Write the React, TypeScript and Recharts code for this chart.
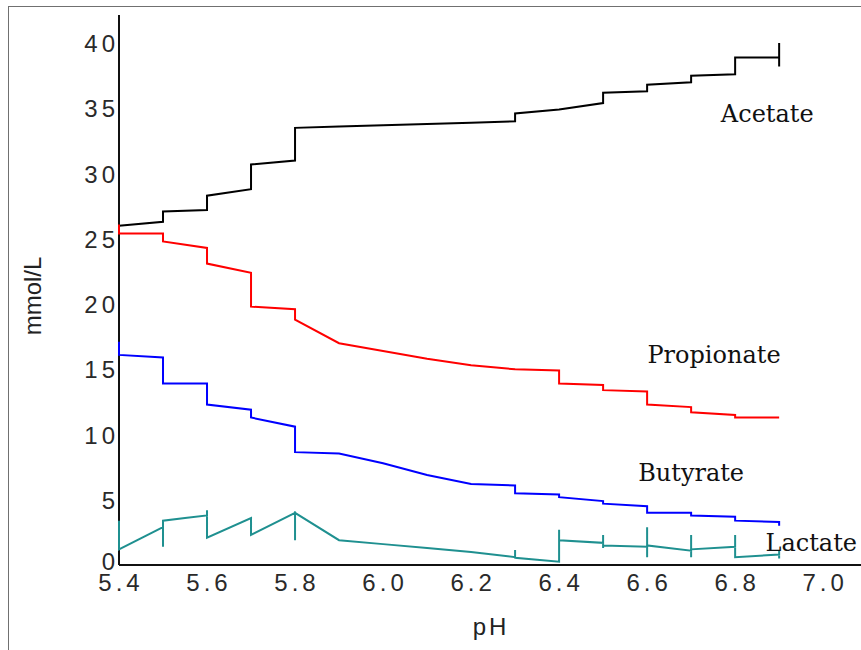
import { LineChart, Line, XAxis, YAxis, ReferenceDot, ReferenceLine } from 'recharts';

const phTicks = [5.4, 5.6, 5.8, 6.0, 6.2, 6.4, 6.6, 6.8, 7.0];
const mmolTicks = [0, 5, 10, 15, 20, 25, 30, 35, 40];

// [pH, mmol/L] vertices (repeated pH = vertical jump / bar)
const acetate: [number, number][] = [
  [5.4, 26.0], [5.5, 26.3], [5.5, 27.1], [5.6, 27.2], [5.6, 28.3], [5.7, 28.8],
  [5.7, 30.7], [5.8, 31.0], [5.8, 33.5], [5.9, 33.6], [6.0, 33.7], [6.1, 33.8],
  [6.2, 33.9], [6.3, 34.0], [6.3, 34.6], [6.4, 34.9], [6.5, 35.4], [6.5, 36.2],
  [6.6, 36.3], [6.6, 36.8], [6.7, 37.0], [6.7, 37.5], [6.8, 37.6], [6.8, 38.9],
  [6.9, 38.9], [6.9, 40.0], [6.9, 38.2],
];

const propionate: [number, number][] = [
  [5.4, 26.1], [5.4, 25.4], [5.5, 25.4], [5.5, 24.8], [5.6, 24.3], [5.6, 23.1],
  [5.7, 22.4], [5.7, 19.8], [5.8, 19.6], [5.8, 18.8], [5.9, 17.0], [6.0, 16.4],
  [6.1, 15.8], [6.2, 15.3], [6.3, 15.0], [6.4, 14.9], [6.4, 13.9], [6.5, 13.8],
  [6.5, 13.4], [6.6, 13.3], [6.6, 12.3], [6.7, 12.1], [6.7, 11.7], [6.8, 11.5],
  [6.8, 11.3], [6.9, 11.3],
];

const butyrate: [number, number][] = [
  [5.4, 17.1], [5.4, 16.1], [5.5, 15.9], [5.5, 13.9], [5.6, 13.9], [5.6, 12.3],
  [5.7, 11.9], [5.7, 11.3], [5.8, 10.6], [5.8, 8.65], [5.9, 8.55], [6.0, 7.8],
  [6.1, 6.9], [6.2, 6.2], [6.3, 6.1], [6.3, 5.5], [6.4, 5.4], [6.4, 5.2],
  [6.5, 4.9], [6.5, 4.7], [6.6, 4.5], [6.6, 4.0], [6.7, 4.0], [6.7, 3.8],
  [6.8, 3.7], [6.8, 3.4], [6.9, 3.3], [6.9, 3.0],
];

const lactate: [number, number][] = [
  [5.4, 3.4], [5.4, 1.2], [5.5, 2.9], [5.5, 1.4], [5.5, 3.4], [5.55, 3.6],
  [5.6, 3.8], [5.6, 4.2], [5.6, 2.1], [5.7, 3.6], [5.7, 2.3], [5.8, 4.0],
  [5.8, 1.9], [5.8, 4.0], [5.9, 1.9], [6.0, 1.6], [6.1, 1.3], [6.2, 1.0],
  [6.3, 0.6], [6.3, 1.15], [6.3, 0.55], [6.4, 0.25], [6.4, 2.7], [6.4, 1.9],
  [6.5, 1.7], [6.5, 2.3], [6.5, 1.3], [6.5, 1.5], [6.6, 1.4], [6.6, 2.9],
  [6.6, 0.6], [6.6, 1.5], [6.7, 1.1], [6.7, 2.3], [6.7, 0.6], [6.7, 1.2],
  [6.8, 1.4], [6.8, 2.3], [6.8, 0.6], [6.9, 0.8], [6.9, 1.1], [6.9, 0.5],
];

const series = [
  { name: 'Acetate', pts: acetate, color: '#000000' },
  { name: 'Propionate', pts: propionate, color: '#ff0000' },
  { name: 'Butyrate', pts: butyrate, color: '#0000ff' },
  { name: 'Lactate', pts: lactate, color: '#1f9090' },
];

// text labels placed in data coordinates
const seriesLabels = [
  { text: 'Acetate', x: 6.873, y: 34.6 },
  { text: 'Propionate', x: 6.752, y: 16.1 },
  { text: 'Butyrate', x: 6.7, y: 7.05 },
  { text: 'Lactate', x: 6.973, y: 1.7 },
];

const toPoints = (pairs: [number, number][]) => pairs.map(([x, y]) => ({ x, y }));

const tickFont = '"Liberation Sans", Arial, sans-serif';

const XTick = (props: any) => {
  const { x, y, payload } = props;
  return (
    <text x={x + 2} y={y} dy={24} textAnchor="middle" fontFamily={tickFont} fontSize={24} letterSpacing={4} fill="#2a2a2a">
      {payload.value.toFixed(1)}
    </text>
  );
};

const YTick = (props: any) => {
  const { x, y, payload } = props;
  return (
    <text x={x + 2} y={y} dy={payload.value === 0 ? 5 : 9} textAnchor="end" fontFamily={tickFont} fontSize={24} letterSpacing={4} fill="#2a2a2a">
      {payload.value}
    </text>
  );
};

const SeriesLabel = (text: string) => (props: any) => (
  <text x={props.cx} y={props.cy} dy={8} textAnchor="middle" fontFamily='"DejaVu Serif", "Liberation Serif", serif' fontSize={24} fill="#111">
    {text}
  </text>
);

export default function App() {
  return (
    <div style={{ position: 'absolute', left: 0, top: 0, width: 861, height: 650, background: '#fff', overflow: 'hidden' }}>
      <div style={{ position: 'absolute', left: 8, top: 6, width: 900, height: 700, borderLeft: '1px solid #707070', borderTop: '1px solid #707070' }} />
      <LineChart width={861} height={650} margin={{ top: 15, right: 0, bottom: 25, left: 19 }}>
        <XAxis
          type="number"
          dataKey="x"
          domain={[5.4, 7.086]}
          ticks={phTicks}
          tickLine={false}
          tickSize={0}
          axisLine={{ stroke: '#111', strokeWidth: 2 }}
          tick={<XTick />}
          height={60}
        />
        <YAxis
          type="number"
          domain={[0, 42.15]}
          ticks={mmolTicks}
          tickLine={false}
          tickSize={0}
          axisLine={false}
          tick={<YTick />}
          width={100}
        />
        {/* y axis line drawn as a reference line so the series can sit on top of it */}
        <ReferenceLine x={5.4} stroke="#111" strokeWidth={2} ifOverflow="visible" />
        {series.map((s) => (
          <Line
            key={s.name}
            data={toPoints(s.pts)}
            dataKey="y"
            type="linear"
            stroke={s.color}
            strokeWidth={2}
            dot={false}
            isAnimationActive={false}
          />
        ))}
        {seriesLabels.map((l) => (
          <ReferenceDot key={l.text} x={l.x} y={l.y} r={0} ifOverflow="visible" shape={SeriesLabel(l.text)} />
        ))}
      </LineChart>
      <div style={{ position: 'absolute', left: 33, top: 296, transform: 'translate(-50%, -50%) rotate(-90deg)', fontFamily: tickFont, fontSize: 24, color: '#222', whiteSpace: 'nowrap' }}>
        mmol/L
      </div>
      <div style={{ position: 'absolute', left: 491, top: 627, transform: 'translate(-50%, -50%)', fontFamily: tickFont, fontSize: 24, letterSpacing: 3, color: '#222', whiteSpace: 'nowrap' }}>
        pH
      </div>
    </div>
  );
}
